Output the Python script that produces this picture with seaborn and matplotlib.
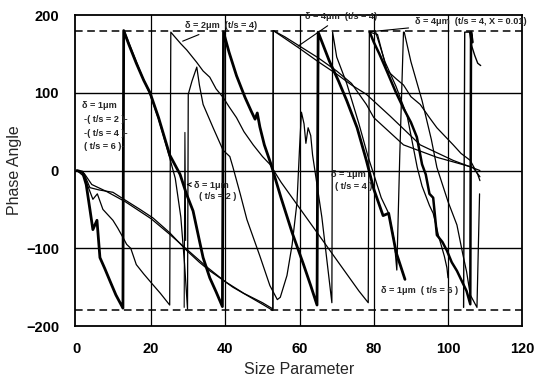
import matplotlib.pyplot as plt
import seaborn as sns

# phase angle traces (wraps kept as jumps)
t6_x = [0, 1.5, 2.5, 3.5, 4.3, 5.4, 6.2, 7.5, 8.9, 10.5, 12.4,
        12.6, 14, 16, 18, 19.7, 22, 25, 27.8, 29.5, 31.3, 33, 34, 35.8, 37.5, 39.2,
        39.5, 41, 43, 45.3, 47, 48, 48.6, 49.3, 50.5, 52.3, 55, 58, 61, 63, 64.7,
        65, 68, 70.5, 72.7, 75.5, 78, 80, 82.5, 84, 86, 88.4]
t6_y = [0, -2, -18, -50, -76, -64, -112, -126, -142, -160, -177,
        180, 162, 138, 116, 100, 68, 20, -5, -30, -52, -90, -112, -138, -156, -175,
        178, 152, 122, 94, 76, 66, 74, 56, 33, 8, -35, -80, -120, -148, -173,
        178, 141, 115, 90, 55, 13, -24, -58, -55, -105, -140]

t4_x = [0, 2, 4.3, 5.5, 7, 9.7, 11, 12.4, 13.4, 14.5, 16, 18, 20.5, 22.5, 25,
        25.3, 26, 28, 29.6, 32.3, 34, 35.8, 37.5, 39.4, 41, 43, 45, 47.5, 50, 52,
        55, 58, 61, 64, 67, 70, 73, 76, 78.5,
        78.8, 81, 83.5, 86, 88, 90, 92.5, 95, 97, 99, 101.4, 103.5, 106, 108, 108.6]
t4_y = [0, -8, -37, -30, -50, -64, -74, -86, -95, -100, -121, -133, -147, -158, -173,
        178, 174, 163, 155, 139, 128, 120, 105, 94, 82, 68, 50, 33, 18, 8,
        -15, -35, -55, -75, -95, -115, -135, -155, -170,
        178, 175, 129, 118, 110, 95, 85, 68, 55, 45, 33, 22, 13, -5, -13]

slow_a_x = [0, 2, 3.5, 6, 9.7, 13, 17, 20.5, 25, 29.6, 33, 35.8, 38.5, 42, 46, 50, 52.8,
            52.9, 56, 60, 65, 70, 74, 78, 84.4, 92.5, 101.4, 108.6]
slow_a_y = [0, -5, -22, -25, -28, -38, -50, -61, -80, -103, -118, -129, -138, -150, -161, -172, -180,
            180, 170, 157, 140, 124, 110, 98, 70, 33, 13, 0]

slow_b_x = [0, 2, 4, 8, 13, 20, 25, 30, 35, 40, 45, 50, 52.8,
            52.9, 56, 60, 65, 70, 74, 78, 80, 88, 97, 106.7, 108.6]
slow_b_y = [0, -4, -18, -27, -40, -62, -82, -103, -124, -143, -158, -170, -178,
            180, 172, 160, 145, 128, 112, 85, 68, 33, 17, 4, -8]

t2_x = [12.7, 15, 17.5, 19.7, 22, 24.5, 26.5, 28, 29, 29.8,
        30, 31, 32.3, 33, 34, 36.7, 39.4, 41.2, 42, 44, 45.8, 49.3, 52, 54, 54.8,
        56.6, 58, 59.3, 60, 60.5, 61.2, 61.7, 62.3, 63, 63.5, 66, 68.7,
        68.9, 70, 72.7, 76, 78.5, 80, 82, 84, 85.5, 86.2, 87, 88]
t2_y = [180, 152, 122, 98, 66, 25, -10, -60, -120, -178,
        98, 115, 133, 110, 85, 55, 26, 18, 5, -30, -63, -110, -148, -166, -163,
        -135, -95, -41, 30, 75, 60, 35, 55, 45, 20, -60, -170,
        178, 146, 112, 60, 17, -5, -35, -55, -90, -128, 20, 178]

l1_x = [78.9, 80, 81.5, 83.5, 86, 88, 90, 91.6, 93, 94, 95, 96, 97, 98.5, 99.7,
        101, 102.4, 103.5, 105, 106, 106.2, 106.6]
l1_y = [178, 165, 150, 128, 100, 80, 62, 43, 8, -5, -30, -35, -83, -92, -103,
        -118, -129, -140, -155, -172, 178, 165]

l2_x = [80.5, 83, 86, 89, 91.7, 93, 95, 96, 97.5, 99, 99.7, 100]
l2_y = [178, 140, 108, 70, 4, -20, -45, -55, -85, -110, -125, -138]

l3_x = [88.2, 90, 93, 95.5, 97, 100, 102.4, 104, 105, 106, 107.8, 108.5]
l3_y = [178, 140, 90, 40, 4, -40, -70, -108, -130, -160, -176, -30]

x01_x = [104.2, 104.5, 105.8, 106.4, 107.2, 108, 108.8]
x01_y = [-176, 178, 178, 160, 148, 138, 135]

spike_x = [28.9, 29.1, 29.3]
spike_y = [-176, 49, -90]

sns.set_style("white")
plt.rcParams['font.family'] = ['Liberation Sans', 'DejaVu Sans']

fig = plt.figure(figsize=(5.44, 3.8), dpi=100)
ax = fig.add_axes([0.138, 0.142, 0.822, 0.8185])

traces = [
    (t6_x, t6_y, 2.0),
    (t4_x, t4_y, 0.9),
    (slow_a_x, slow_a_y, 0.9),
    (slow_b_x, slow_b_y, 0.9),
    (t2_x, t2_y, 0.9),
    (l1_x, l1_y, 1.8),
    (l2_x, l2_y, 0.9),
    (l3_x, l3_y, 0.9),
    (x01_x, x01_y, 1.0),
    (spike_x, spike_y, 0.8),
]
for xs, ys, w in traces:
    sns.lineplot(x=xs, y=ys, sort=False, estimator=None, color='black', lw=w, ax=ax)

# grid like the original
for yv in (100, 0, -100):
    ax.axhline(yv, color='black', lw=1.0, zorder=0)
for yv in (180, -180):
    ax.axhline(yv, color='black', lw=1.1, ls=(0, (5, 3)), zorder=0)
for xv in (20, 40, 60, 80, 100):
    ax.axvline(xv, color='black', lw=0.9, zorder=0)

ax.set_xlim(-0.5, 120)
ax.set_ylim(-200, 200)
ax.set_xticks(range(0, 121, 20))
ax.set_xticks(range(10, 120, 20), minor=True)
ax.set_yticks(range(-200, 201, 100))
ax.set_yticks(range(-180, 200, 20), minor=True)
ax.tick_params(which='major', direction='out', length=8, width=1.1, labelsize=10.5, colors='black')
ax.tick_params(which='minor', direction='out', length=5, width=1.0)
for lab in ax.get_xticklabels() + ax.get_yticklabels():
    lab.set_fontweight('bold')
for s in ax.spines.values():
    s.set_linewidth(1.3)
    s.set_color('black')

ax.set_xlabel("Size Parameter", fontsize=11.5)
ax.set_ylabel("Phase Angle", fontsize=11.5, labelpad=3)

fs = 6.6
tw = 'bold'
ln = dict(arrowstyle='-', lw=0.8, color='black')
ax.text(1.5, 80, "δ = 1μm", fontsize=fs, weight=tw)
ax.text(1.8, 62, "-( t/s = 2 )-", fontsize=fs, weight=tw)
ax.text(1.8, 45, "-( t/s = 4 )-", fontsize=fs, weight=tw)
ax.text(1.8, 28, "( t/s = 6 )-", fontsize=fs, weight=tw)
ax.annotate("δ = 2μm  (t/s = 4)", xy=(27.8, 165), xytext=(29, 183), fontsize=fs,
            weight=tw, arrowprops=ln)
ax.annotate("δ = 4μm  (t/s = 4)", xy=(59, 158), xytext=(61.5, 195), fontsize=fs,
            weight=tw, arrowprops=ln, annotation_clip=False)
ax.annotate("δ = 4μm  (t/s = 4, X = 0.01)", xy=(78, 178), xytext=(91, 188), fontsize=fs,
            weight=tw, arrowprops=ln, annotation_clip=False)
ax.annotate("δ = 1μm", xy=(29.5, -18), xytext=(31.5, -22), fontsize=fs, weight=tw,
            arrowprops=dict(arrowstyle='->', lw=0.8, color='black'))
ax.text(33, -37, "( t/s = 2 )", fontsize=fs, weight=tw)
ax.text(68.5, -8, "δ = 1μm", fontsize=fs, weight=tw)
ax.text(69.5, -24, "( t/s = 4 )", fontsize=fs, weight=tw)
ax.text(82, -157, "δ = 1μm  ( t/s = 6 )", fontsize=fs, weight=tw)

fig.savefig("out.png", dpi=100)
